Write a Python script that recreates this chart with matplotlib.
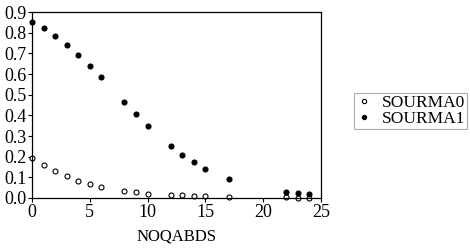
import matplotlib
matplotlib.use("Agg")
import matplotlib.pyplot as plt

plt.rcParams['font.family'] = ['Liberation Serif', 'DejaVu Serif']

x_vals = [0, 1, 2, 3, 4, 5, 6, 8, 9, 10, 12, 13, 14, 15, 17, 22, 23, 24]
sourma0 = [0.193, 0.160, 0.129, 0.105, 0.084, 0.069, 0.055, 0.036, 0.029, 0.021,
           0.015, 0.012, 0.010, 0.008, 0.004, 0.003, 0.002, 0.001]
sourma1 = [0.854, 0.822, 0.785, 0.743, 0.694, 0.641, 0.584, 0.467, 0.408, 0.351,
           0.252, 0.210, 0.173, 0.141, 0.094, 0.031, 0.024, 0.019]
x_ticks = [0, 5, 10, 15, 20, 25]
y_ticks = [0.0, 0.1, 0.2, 0.3, 0.4, 0.5, 0.6, 0.7, 0.8, 0.9]

fig = plt.figure(figsize=(4.70, 2.49), dpi=100)
ax = fig.add_axes([0.068, 0.205, 0.615, 0.746])

ax.plot(x_vals, sourma0, linestyle='none', marker='o', markersize=3.6,
        markerfacecolor='white', markeredgecolor='black', markeredgewidth=0.8,
        label='SOURMA0', clip_on=False)
ax.plot(x_vals, sourma1, linestyle='none', marker='o', markersize=3.6,
        markerfacecolor='black', markeredgecolor='black', markeredgewidth=0.8,
        label='SOURMA1', clip_on=False)

ax.set_xlim(0, 25)
ax.set_ylim(0, 0.9)
ax.set_xticks(x_ticks)
ax.set_yticks(y_ticks)
ax.set_yticklabels([f"{v:.1f}" for v in y_ticks])
ax.tick_params(direction='out', length=3, width=0.8, labelsize=13, pad=1)
for s in ax.spines.values():
    s.set_linewidth(0.9)

ax.set_xlabel('NOQABDS', fontsize=12)
ax.xaxis.set_label_coords(0.5, -0.165)

leg = fig.legend(loc='upper left', bbox_to_anchor=(0.753, 0.627), fontsize=12.5,
                 frameon=True, fancybox=False, borderpad=0.12, labelspacing=0.0,
                 handlelength=0.9, handletextpad=0.6, markerscale=0.85,
                 borderaxespad=0)
leg.get_frame().set_edgecolor('#999999')
leg.get_frame().set_linewidth(0.8)

fig.savefig('out.png', dpi=100)
